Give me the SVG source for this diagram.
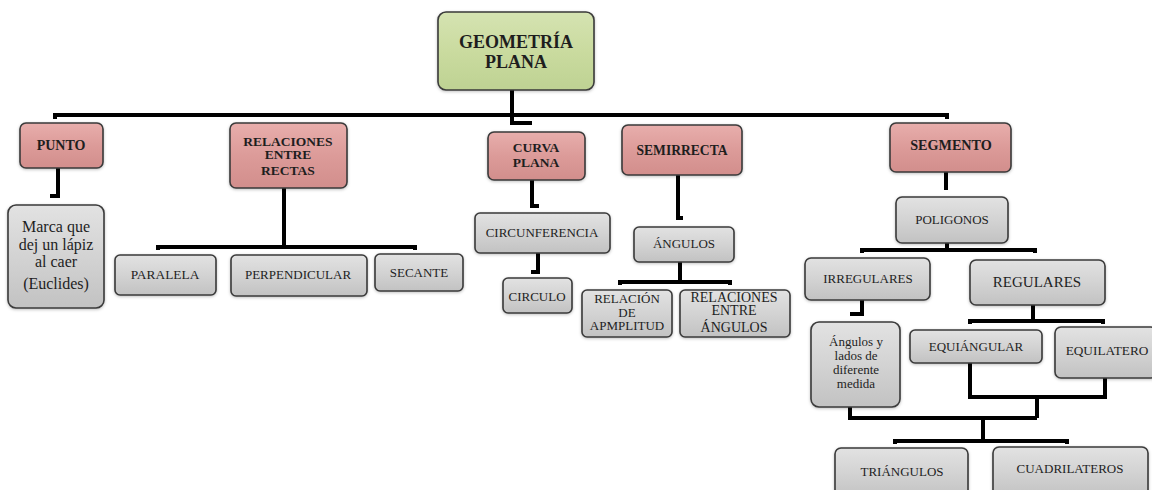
<svg xmlns="http://www.w3.org/2000/svg" width="1152" height="490" viewBox="0 0 1152 490">
<defs>
<linearGradient id="gGrey" x1="0" y1="0" x2="0" y2="1">
<stop offset="0" stop-color="#e2e2e2"/><stop offset="0.5" stop-color="#d3d3d3"/><stop offset="1" stop-color="#c2c2c2"/>
</linearGradient>
<linearGradient id="gPink" x1="0" y1="0" x2="0" y2="1">
<stop offset="0" stop-color="#e8aeac"/><stop offset="0.5" stop-color="#dc9b99"/><stop offset="1" stop-color="#d28e8c"/>
</linearGradient>
<linearGradient id="gGreen" x1="0" y1="0" x2="0" y2="1">
<stop offset="0" stop-color="#d5e3b2"/><stop offset="0.5" stop-color="#cadb9f"/><stop offset="1" stop-color="#bed293"/>
</linearGradient>
<filter id="sh" x="-10%" y="-10%" width="120%" height="130%">
<feDropShadow dx="0" dy="1" stdDeviation="1.5" flood-color="#000" flood-opacity="0.25"/>
</filter>
</defs>
<style>
.box{stroke:#3a3a3a;stroke-width:1.6;filter:url(#sh)}
.grey{fill:url(#gGrey)}
.pink{fill:url(#gPink)}
.green{fill:url(#gGreen)}
text{font-family:"Liberation Serif","Times New Roman",serif;fill:#1e1e1e;text-anchor:middle}
.b{font-weight:bold}
.conn{fill:none;stroke:#000;stroke-width:4;stroke-linejoin:miter}
</style>
<g id="connectors">
<path class="conn" d="M512,90 V123 H532"/>
<path class="conn" stroke-width="3.5" d="M55,119 V115 H947 V119"/>
<path class="conn" d="M58,168 V196 H50"/>
<path class="conn" d="M284,188 V247"/>
<path class="conn" stroke-width="3.5" d="M158,250 V247 H415 V250"/>
<path class="conn" d="M532,180 V206 H539"/>
<path class="conn" d="M538,253 V272 H531"/>
<path class="conn" d="M678,175 V218 H683"/>
<path class="conn" d="M680,262 V282"/>
<path class="conn" stroke-width="3.5" d="M620,285 V282 H730 V285"/>
<path class="conn" d="M946,172 V190"/>
<path class="conn" d="M947,243 V250"/>
<path class="conn" stroke-width="3.5" d="M862,253 V250 H1035 V253"/>
<path class="conn" d="M862,300 V314 H850"/>
<path class="conn" d="M1033,305 V321"/>
<path class="conn" stroke-width="3.5" d="M970,324 V321 H1103 V324"/>
<path class="conn" d="M970,363 V397 H1105 V378"/>
<path class="conn" d="M1037,397 V418"/>
<path class="conn" d="M850,407 V418 H1037"/>
<path class="conn" d="M983,418 V441"/>
<path class="conn" stroke-width="3.5" d="M895,444 V441 H1067 V444"/>
</g>
<g id="n-root"><rect class="box green" x="438" y="12" width="156" height="78" rx="8"/>
<text class="b" x="516" y="48" font-size="18">GEOMETRÍA</text><text class="b" x="516" y="68" font-size="18">PLANA</text></g>
<g id="n-punto"><rect class="box pink" x="20" y="123" width="83" height="45" rx="6"/>
<text class="b" x="61" y="150" font-size="14">PUNTO</text></g>
<g id="n-marca"><rect class="box grey" x="8" y="205" width="96" height="103" rx="8"/>
<text x="56" y="232" font-size="16">Marca que</text><text x="56" y="250" font-size="16">dej un lápiz</text><text x="56" y="267" font-size="16">al caer</text><text x="56" y="289" font-size="16">(Euclides)</text></g>
<g id="n-relaciones"><rect class="box pink" x="230" y="123" width="117" height="65" rx="6"/>
<text class="b" x="288" y="146" font-size="13.5">RELACIONES</text><text class="b" x="288" y="159" font-size="13.5">ENTRE</text><text class="b" x="288" y="175" font-size="13.5">RECTAS</text></g>
<g id="n-paralela"><rect class="box grey" x="115" y="255" width="101" height="40" rx="5"/>
<text x="165" y="279" font-size="13.4">PARALELA</text></g>
<g id="n-perpendicular"><rect class="box grey" x="231" y="255" width="136" height="41" rx="5"/>
<text x="298" y="279" font-size="13">PERPENDICULAR</text></g>
<g id="n-secante"><rect class="box grey" x="375" y="254" width="88" height="37" rx="5"/>
<text x="419" y="277" font-size="13">SECANTE</text></g>
<g id="n-curva"><rect class="box pink" x="488" y="132" width="97" height="48" rx="6"/>
<text class="b" x="536" y="152" font-size="13.5">CURVA</text><text class="b" x="536" y="167" font-size="13.5">PLANA</text></g>
<g id="n-circunferencia"><rect class="box grey" x="475" y="213" width="135" height="40" rx="5"/>
<text x="542" y="237" font-size="13">CIRCUNFERENCIA</text></g>
<g id="n-circulo"><rect class="box grey" x="503" y="278" width="69" height="35" rx="5"/>
<text x="537" y="301" font-size="13">CIRCULO</text></g>
<g id="n-semirrecta"><rect class="box pink" x="622" y="125" width="120" height="50" rx="6"/>
<text class="b" x="682" y="155" font-size="13.6">SEMIRRECTA</text></g>
<g id="n-angulos"><rect class="box grey" x="634" y="227" width="100" height="35" rx="5"/>
<text x="684" y="248" font-size="13">ÁNGULOS</text></g>
<g id="n-amplitud"><rect class="box grey" x="582" y="290" width="90" height="47" rx="5"/>
<text x="627" y="303" font-size="13">RELACIÓN</text><text x="627" y="317" font-size="13">DE</text><text x="627" y="330" font-size="13">APMPLITUD</text></g>
<g id="n-relangulos"><rect class="box grey" x="680" y="290" width="110" height="47" rx="5"/>
<text x="734" y="302" font-size="14">RELACIONES</text><text x="734" y="315" font-size="14">ENTRE</text><text x="734" y="332" font-size="14">ÁNGULOS</text></g>
<g id="n-segmento"><rect class="box pink" x="890" y="123" width="121" height="49" rx="6"/>
<text class="b" x="951" y="150" font-size="14.2">SEGMENTO</text></g>
<g id="n-poligonos"><rect class="box grey" x="896" y="197" width="112" height="46" rx="6"/>
<text x="952" y="224" font-size="13">POLIGONOS</text></g>
<g id="n-irregulares"><rect class="box grey" x="805" y="258" width="125" height="42" rx="6"/>
<text x="868" y="283" font-size="13">IRREGULARES</text></g>
<g id="n-regulares"><rect class="box grey" x="970" y="260" width="135" height="45" rx="6"/>
<text x="1037" y="287" font-size="15">REGULARES</text></g>
<g id="n-diferente"><rect class="box grey" x="811" y="322" width="89" height="85" rx="8"/>
<text x="856" y="346" font-size="13">Ángulos y</text><text x="856" y="360" font-size="13">lados de</text><text x="856" y="374" font-size="13">diferente</text><text x="856" y="388" font-size="13">medida</text></g>
<g id="n-equiangular"><rect class="box grey" x="910" y="330" width="132" height="33" rx="5"/>
<text x="976" y="351" font-size="13">EQUIÁNGULAR</text></g>
<g id="n-equilatero"><rect class="box grey" x="1055" y="327" width="102" height="51" rx="6"/>
<text x="1107" y="355" font-size="13.3">EQUILATERO</text></g>
<g id="n-triangulos"><rect class="box grey" x="835" y="448" width="133" height="50" rx="6"/>
<text x="902" y="476" font-size="13">TRIÁNGULOS</text></g>
<g id="n-cuadrilateros"><rect class="box grey" x="993" y="447" width="155" height="50" rx="6"/>
<text x="1070" y="473" font-size="13">CUADRILATEROS</text></g>
</svg>
